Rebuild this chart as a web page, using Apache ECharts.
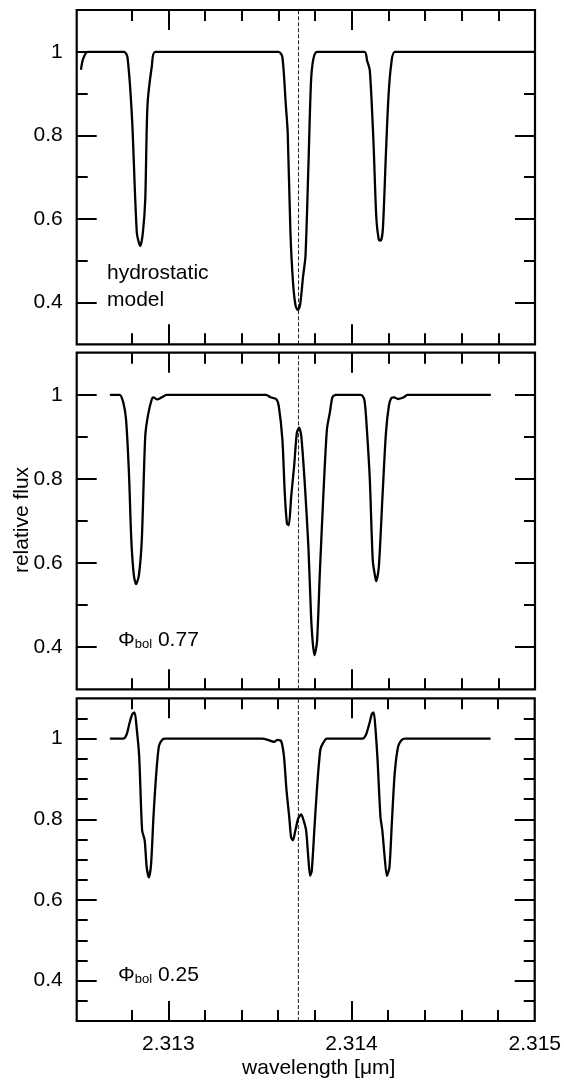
<!DOCTYPE html>
<html>
<head>
<meta charset="utf-8">
<script src="https://cdn.jsdelivr.net/npm/echarts@6/dist/echarts.min.js"></script>
<style>
html, body { margin: 0; padding: 0; background: #fff; }
#chart { width: 564px; height: 1081px; }
</style>
</head>
<body>
<div id="chart"></div>
<script>
// ---- data ----
const hydroWave = [2.312523, 2.312535, 2.312559, 2.312759, 2.312777, 2.312802, 2.312828, 2.312847, 2.312861, 2.312874, 2.312886, 2.31291, 2.312929,
  2.313602, 2.313622, 2.313641, 2.313651, 2.313666, 2.31368, 2.313694, 2.313707, 2.313719, 2.313735, 2.313748, 2.313764, 2.313778, 2.313791, 2.313811,
  2.31407, 2.314084, 2.314099, 2.314119, 2.314134, 2.314148, 2.314158, 2.31417, 2.314187, 2.314201, 2.314216, 2.314236, 2.315];
const hydroFlux = [0.957, 0.983, 1, 1, 0.987, 0.839, 0.567, 0.535, 0.567, 0.647, 0.871, 0.966, 1,
  1, 0.987, 0.871, 0.807, 0.567, 0.448, 0.392, 0.382, 0.395, 0.463, 0.511, 0.727, 0.927, 0.983, 1,
  1, 0.979, 0.955, 0.783, 0.607, 0.55, 0.548, 0.575, 0.759, 0.895, 0.971, 1, 1];

const phase077Wave = [2.312681, 2.312734, 2.312754, 2.312769, 2.312785, 2.312798, 2.312812, 2.312824, 2.312839, 2.312855, 2.312874, 2.31289, 2.31291, 2.312919, 2.312939, 2.312964, 2.312991,
  2.313534, 2.313557, 2.313588, 2.313602, 2.313622, 2.313635, 2.313647, 2.313657, 2.31367, 2.313686, 2.313701, 2.313713, 2.313725, 2.313744, 2.313764, 2.313778, 2.313787, 2.313797, 2.313811, 2.313826, 2.313846, 2.313865, 2.313881, 2.313895, 2.313914,
  2.314051, 2.31407, 2.314084, 2.314099, 2.314115, 2.314127, 2.314134, 2.314148, 2.314168, 2.314187, 2.314203, 2.314216, 2.314232, 2.314252, 2.314285, 2.314304, 2.314759];
const phase077Flux = [1, 1, 0.982, 0.942, 0.814, 0.654, 0.570, 0.550, 0.570, 0.654, 0.902, 0.954, 0.990, 0.994, 0.989, 0.994, 1,
  1, 0.994, 0.990, 0.974, 0.894, 0.766, 0.694, 0.690, 0.758, 0.830, 0.910, 0.922, 0.902, 0.790, 0.638, 0.478, 0.414, 0.381, 0.414, 0.574, 0.766, 0.918, 0.958, 0.994, 1,
  1, 0.986, 0.910, 0.798, 0.606, 0.570, 0.557, 0.590, 0.758, 0.910, 0.974, 0.992, 0.994, 0.990, 0.994, 1, 1];

const phase025Wave = [2.312681, 2.312754, 2.312773, 2.312789, 2.312804, 2.312816, 2.312828, 2.312841, 2.312857, 2.312871, 2.312882, 2.312894, 2.312906, 2.312919, 2.312933, 2.312949, 2.312968, 2.312984,
  2.313514, 2.313543, 2.313577, 2.313596, 2.313616, 2.313631, 2.313645, 2.31366, 2.31367, 2.31368, 2.313694, 2.313709, 2.313725, 2.313738, 2.313752, 2.313764, 2.313774, 2.313783, 2.313797, 2.313811, 2.31383, 2.313846, 2.313865,
  2.31406, 2.31408, 2.314099, 2.314111, 2.314121, 2.314131, 2.314142, 2.314158, 2.314168, 2.314181, 2.314193, 2.314207, 2.31422, 2.314236, 2.314255, 2.314275, 2.314291, 2.314759];
const phase025Flux = [1, 1, 1.011, 1.040, 1.061, 1.065, 1.023, 0.957, 0.773, 0.748, 0.681, 0.656, 0.689, 0.806, 0.906, 0.982, 0.998, 1,
  1, 0.997, 0.992, 0.997, 0.994, 0.957, 0.873, 0.806, 0.756, 0.748, 0.773, 0.802, 0.812, 0.798, 0.773, 0.706, 0.660, 0.673, 0.773, 0.873, 0.973, 0.990, 1,
  1, 1.011, 1.040, 1.061, 1.065, 1.023, 0.948, 0.806, 0.773, 0.706, 0.660, 0.681, 0.790, 0.915, 0.982, 0.997, 1, 1];

const restWavelength = 2.31371;
const xTickLabels = [2.313, 2.314, 2.315];
const xMajorTicks = [2.313, 2.314];
const xMinorTicks = [2.3128, 2.3132, 2.3134, 2.3136, 2.3138, 2.3142, 2.3144, 2.3146, 2.3148];
const yTickLabels = [0.4, 0.6, 0.8, 1];
const yMinorTicksCoarse = [0.5, 0.7, 0.9];
const yMinorTicksFine = [0.35, 0.45, 0.5, 0.55, 0.65, 0.7, 0.75, 0.85, 0.9, 0.95, 1.05];
const panelNames = ['hydrostatic', 'model'];
const phaseValues = ['0.77', '0.25'];
const xTitle = 'wavelength [μm]';
const yTitle = 'relative flux';

// ---- layout ----
const FONT = "'Liberation Sans', Arial, Helvetica, sans-serif";
const FS = 21;
const X_MIN = 2.3125, X_MAX = 2.315, Y_MIN = 0.3, Y_MAX = 1.1;
const gridLeft = 76.7, gridWidth = 458.3;
const panels = [
  { top: 10, height: 334.3, wave: hydroWave, flux: hydroFlux, yMinor: yMinorTicksCoarse, xLabels: false },
  { top: 352.7, height: 336.6, wave: phase077Wave, flux: phase077Flux, yMinor: yMinorTicksCoarse, xLabels: false },
  { top: 698.3, height: 322.7, wave: phase025Wave, flux: phase025Flux, yMinor: yMinorTicksFine, xLabels: true }
];

const tickStyle = { color: '#000', width: 2 };
const grids = [], xAxes = [], yAxes = [], series = [];

panels.forEach((p, gi) => {
  grids.push({ left: gridLeft, top: p.top, width: gridWidth, height: p.height, show: true,
    borderColor: '#000', borderWidth: 2.2, backgroundColor: 'transparent', containLabel: false });
  const baseX = { gridIndex: gi, type: 'value', min: X_MIN, max: X_MAX,
    axisLine: { show: false }, splitLine: { show: false } };
  const baseY = { gridIndex: gi, type: 'value', min: Y_MIN, max: Y_MAX,
    axisLine: { show: false }, splitLine: { show: false } };
  const xi = xAxes.length, yi = yAxes.length;
  const xPos = ['bottom', 'bottom', 'top', 'top'];
  const xTicks = [xMajorTicks, xMinorTicks, xMajorTicks, xMinorTicks];
  const xLen = [20, 11, 20, 11];
  for (let k = 0; k < 4; k++) {
    const ax = Object.assign({}, baseX, {
      position: xPos[k],
      axisTick: { show: true, inside: true, length: xLen[k], lineStyle: tickStyle, customValues: xTicks[k] },
      axisLabel: { show: false }
    });
    if (k === 0 && p.xLabels) {
      ax.axisLabel = { show: true, customValues: xTickLabels, formatter: v => v.toFixed(3),
        margin: 13, color: '#000', fontSize: FS, fontFamily: FONT, showMinLabel: true, showMaxLabel: true };
      ax.name = xTitle;
      ax.nameLocation = 'middle';
      ax.nameGap = 37;
      ax.nameTextStyle = { color: '#000', fontSize: FS, fontFamily: FONT, padding: [0, 0, 0, 26] };
    }
    xAxes.push(ax);
  }
  const yPos = ['left', 'left', 'right', 'right'];
  const yTicks = [yTickLabels, p.yMinor, yTickLabels, p.yMinor];
  const yLen = [20, 11, 20, 11];
  for (let k = 0; k < 4; k++) {
    const ax = Object.assign({}, baseY, {
      position: yPos[k],
      axisTick: { show: true, inside: true, length: yLen[k], lineStyle: tickStyle, customValues: yTicks[k] },
      axisLabel: { show: false }
    });
    if (k === 0) {
      ax.axisLabel = { show: true, customValues: yTickLabels, formatter: v => String(v),
        margin: 14, color: '#000', fontSize: FS, fontFamily: FONT, showMinLabel: true, showMaxLabel: true };
    }
    yAxes.push(ax);
  }
  // rest-wavelength reference line (dashed)
  series.push({
    type: 'line', xAxisIndex: xi, yAxisIndex: yi, z: 1,
    data: [[restWavelength, Y_MIN], [restWavelength, Y_MAX]],
    showSymbol: false, silent: true,
    lineStyle: { color: '#222', width: 1, type: [4, 2] }
  });
  series.push({
    type: 'line', xAxisIndex: xi, yAxisIndex: yi, z: 3,
    data: p.wave.map((w, i) => [w, p.flux[i]]),
    showSymbol: false, smooth: 0.25, clip: true,
    lineStyle: { color: '#000', width: 2.3 }
  });
});

const graphic = [
  { type: 'text', left: 107, top: 262.5, style: { text: panelNames[0], fill: '#000', font: FS + 'px ' + FONT } },
  { type: 'text', left: 107, top: 289.5, style: { text: panelNames[1], fill: '#000', font: FS + 'px ' + FONT } }
];
[640, 975].forEach((cy, i) => {
  graphic.push({ type: 'text', x: 118, y: cy, style: {
    text: '{p|Φ}{s|bol}{p| ' + phaseValues[i] + '}',
    textVerticalAlign: 'middle', fill: '#000',
    rich: {
      p: { fontSize: FS, fontFamily: FONT, color: '#000', lineHeight: 21, verticalAlign: 'bottom' },
      s: { fontSize: 13, fontFamily: FONT, color: '#000', lineHeight: 10, verticalAlign: 'bottom' }
    }
  } });
});
graphic.push({ type: 'text', x: 22, y: 520, rotation: Math.PI / 2, style: {
  text: yTitle, fill: '#000', font: FS + 'px ' + FONT, textAlign: 'center', textVerticalAlign: 'middle' } });

const chart = echarts.init(document.getElementById('chart'), null, { renderer: 'canvas' });
chart.setOption({
  animation: false,
  backgroundColor: '#fff',
  grid: grids,
  xAxis: xAxes,
  yAxis: yAxes,
  series: series,
  graphic: graphic
});
</script>
</body>
</html>
